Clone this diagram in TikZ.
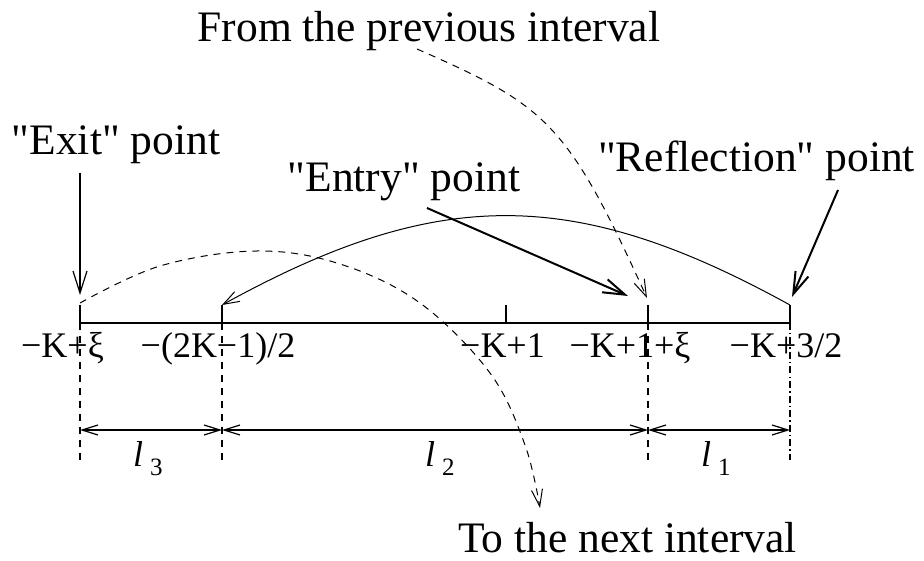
\documentclass[tikz,border=0pt]{standalone}
\usepackage{fontspec}
\setmainfont{Liberation Serif}[Ligatures=TeXOff]
\usetikzlibrary{arrows.meta}
\begin{document}
\begin{tikzpicture}[x=1pt,y=-1pt,
  big/.style={font=\fontsize{43.5}{50}\selectfont, inner sep=0pt, anchor=base},
  axl/.style={font=\fontsize{36}{40}\selectfont, inner sep=0pt, anchor=base},
  lenl/.style={font=\fontsize{36}{40}\selectfont, inner sep=0pt, anchor=base west},
  axisline/.style={line width=2pt},
  vdash/.style={line width=1.2pt, dash pattern=on 7pt off 6pt},
  vdashdot/.style={line width=1.2pt, dash pattern=on 7pt off 3pt on 1.5pt off 3pt},
  dim/.style={line width=1.2pt, {Straight Barb[length=16pt,width=10pt]}-{Straight Barb[length=16pt,width=10pt]}},
  thinarr/.style={line width=1.2pt, -{Straight Barb[length=22pt,width=14pt]}},
  thickarr/.style={line width=2pt, -{Straight Barb[length=22pt,width=14pt]}},
  arcarr/.style={line width=1pt, -{Straight Barb[length=16pt,width=11pt]}},
  dasharr/.style={line width=1pt, dash pattern=on 7pt off 6pt, -{Straight Barb[length=17pt,width=11pt]}}
]
\useasboundingbox (0,0) rectangle (924,561);

% texts
\node[big] (from)   at (429,42)    {From the previous interval};
\node[big] (exitl)  at (116,155)   {"Exit" point};
\node[big] (entryl) at (404,192)   {"Entry" point};
\node[big] (refl)   at (756.5,172) {"Reflection" point};
\node[big] (next)   at (627.5,552) {To the next interval};

\node[axl] (lA) at (62.5,358) {−K+ξ};
\node[axl] (lB) at (218,358)  {−(2K−1)/2};
\node[axl] (lC) at (502.5,358){−K+1};
\node[axl] (lD) at (630,358)  {−K+1+ξ};
\node[axl] (lE) at (786,358)  {−K+3/2};

\node[lenl] (l3) at (133,466) {\textit{l}\hspace{7pt}\raisebox{-9pt}{\fontsize{25}{28}\selectfont 3}};
\node[lenl] (l2) at (425,466) {\textit{l}\hspace{7pt}\raisebox{-9pt}{\fontsize{25}{28}\selectfont 2}};
\node[lenl] (l1) at (701,466) {\textit{l}\hspace{7pt}\raisebox{-9pt}{\fontsize{25}{28}\selectfont 1}};

% axis points
\coordinate (A) at (80,323);
\coordinate (B) at (222,323);
\coordinate (C) at (506,323);
\coordinate (D) at (648,323);
\coordinate (E) at (790,323);
\coordinate (dA) at (80,430);
\coordinate (dB) at (222,430);
\coordinate (dD) at (648,430);
\coordinate (dE) at (790,430);

\draw[axisline] (A) -- (E);
\foreach \p in {A,B,C,D,E} \draw[axisline] (\p) -- ++(0,-18);

\foreach \p in {A,B,D} \draw[vdash] (\p) -- ++(0,137);
\draw[vdashdot] (E) -- ++(0,137);

\draw[dim] (dA) -- (dB);
\draw[dim] (dB) -- (dD);
\draw[dim] (dD) -- (dE);

% pointer arrows
\coordinate (exitS) at (80,173);
\coordinate (exitT) at (80,295);
\coordinate (entryS) at (427,208);
\coordinate (entryT) at (628,296);
\coordinate (reflS) at (838,190);
\coordinate (reflT) at (792,297);
\draw[thinarr] (exitS) -- (exitT);
\draw[thickarr] (entryS) -- (entryT);
\draw[thickarr] (reflS) -- (reflT);

% reflection arc
\coordinate (arcS) at (790,305);
\coordinate (arcT) at (222,305);
\draw[arcarr] (arcS) .. controls (574,186) and (438,186) .. (arcT);

% from previous interval
\coordinate (prevS) at (417,49);
\coordinate (prevT) at (647,298);
\draw[dasharr] (prevS) .. controls (547,106) and (567,122) .. (prevT);

% to next interval
\coordinate (nextS) at (80,303);
\coordinate (nextT) at (540,508);
\draw[dasharr] plot[smooth, tension=0.6] coordinates {(nextS) (160,266) (257,251) (340,264) (420,303) (490,373) (525,445) (nextT)};
\end{tikzpicture}
\end{document}
